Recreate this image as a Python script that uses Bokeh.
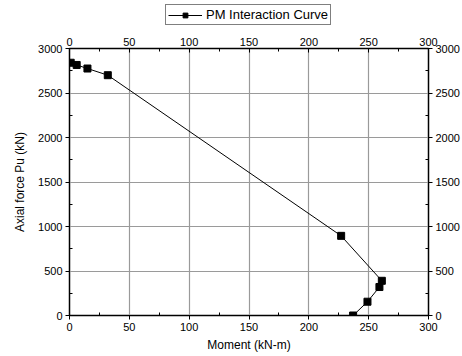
from bokeh.plotting import figure
from bokeh.layouts import column
from bokeh.models import LinearAxis, Legend, LegendItem, Range1d, FixedTicker
from bokeh.embed import file_html
from bokeh.resources import INLINE

moment = [1, 6, 15, 32, 227, 261, 259, 249, 237]
axial = [2840, 2815, 2775, 2700, 895, 390, 320, 155, 0]

x_ticks = [0, 50, 100, 150, 200, 250, 300]
y_ticks = [0, 500, 1000, 1500, 2000, 2500, 3000]
x_minor = [25, 75, 125, 175, 225, 275]
y_minor = [250, 750, 1250, 1750, 2250, 2750]

FONT = "Liberation Sans"

p = figure(width=462, height=329, output_backend="svg", toolbar_location=None,
           x_range=Range1d(0, 300), y_range=Range1d(0, 3000),
           min_border_left=69, min_border_right=32, min_border_top=21, min_border_bottom=41)
p.outline_line_color = "black"
p.outline_line_width = 1.5
p.background_fill_color = "white"
p.border_fill_color = "white"

for g in (p.xgrid[0], p.ygrid[0]):
    g.grid_line_color = "#9a9a9a"
    g.grid_line_width = 1.2
p.xgrid[0].ticker = FixedTicker(ticks=x_ticks)
p.ygrid[0].ticker = FixedTicker(ticks=y_ticks)

def style(ax, ticks, minor, label=None):
    ax.ticker = FixedTicker(ticks=ticks, minor_ticks=minor)
    ax.major_label_text_font = FONT
    ax.major_label_text_font_size = "11px"
    ax.major_label_text_color = "black"
    ax.axis_line_color = "black"
    ax.major_tick_line_color = "black"
    ax.minor_tick_line_color = "black"
    ax.major_tick_out = 4
    ax.major_tick_in = 0
    ax.minor_tick_out = 0
    ax.minor_tick_in = 3
    ax.major_label_standoff = 3
    if label:
        ax.axis_label = label
        ax.axis_label_text_font = FONT
        ax.axis_label_text_font_size = "12px"
        ax.axis_label_text_font_style = "normal"
        ax.axis_label_text_color = "black"
        ax.axis_label_standoff = 4

style(p.xaxis[0], x_ticks, x_minor, "Moment (kN-m)")
style(p.yaxis[0], y_ticks, y_minor, "Axial force Pu (kN)")
p.yaxis[0].axis_label_standoff = 8

top = LinearAxis()
style(top, x_ticks, x_minor)
top.major_tick_out = 0
top.major_tick_in = 4
p.add_layout(top, "above")

right = LinearAxis()
style(right, y_ticks, y_minor)
p.add_layout(right, "right")

p.line(moment, axial, line_color="black", line_width=1)
p.scatter(moment, axial, marker="square", size=7, fill_color="black", line_color="black")

# legend strip above the chart (its frame is aligned with the chart's frame)
lg = figure(width=462, height=27, output_backend="svg", toolbar_location=None,
            x_range=Range1d(-10, -9), y_range=Range1d(-10, -9),
            min_border=0, x_axis_type=None, y_axis_type=None)
lg.outline_line_color = None
lg.xgrid.visible = False
lg.ygrid.visible = False
ln = lg.line(moment, axial, line_color="black", line_width=1)
sc = lg.scatter(moment, axial, marker="square", size=7, fill_color="black", line_color="black")
legend = Legend(items=[LegendItem(label="PM Interaction Curve", renderers=[ln, sc])],
                orientation="horizontal", location=(96, 2),
                label_text_font=FONT, label_text_font_size="13px", label_text_color="black",
                border_line_color="black", border_line_width=1,
                padding=2, margin=0, spacing=0, glyph_width=34, glyph_height=12,
                label_standoff=4, label_height=12, background_fill_alpha=1)
lg.add_layout(legend, "center")

open("out.html", "w").write(file_html(column(lg, p, spacing=0), INLINE))
